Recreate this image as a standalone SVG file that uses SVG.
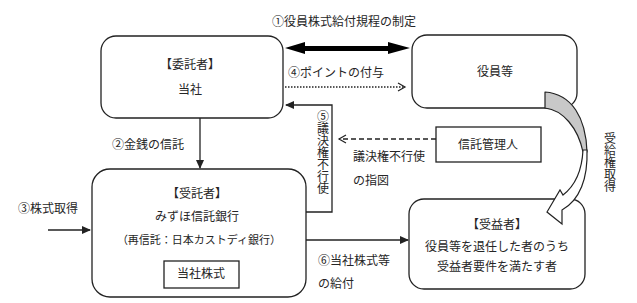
<svg xmlns="http://www.w3.org/2000/svg" width="637" height="303" viewBox="0 0 637 303">
<style>
text{font-family:"Noto Sans CJK JP","Noto Sans",sans-serif;font-size:12px;fill:#262626}
.c{text-anchor:middle}
.v{writing-mode:vertical-rl;text-orientation:upright}
.box{fill:#fff;stroke:#222;stroke-width:1.3}
.ln{fill:none;stroke:#222;stroke-width:1.3}
</style>
<defs>
<marker id="ah" markerWidth="10" markerHeight="10" refX="8" refY="5" orient="auto" markerUnits="userSpaceOnUse">
<path d="M0,1 L9,5 L0,9 Z" fill="#222"/>
</marker>
<marker id="oh" markerWidth="10" markerHeight="10" refX="8" refY="5" orient="auto" markerUnits="userSpaceOnUse">
<path d="M1,1 L8,5 L1,9" fill="none" stroke="#222" stroke-width="1.2"/>
</marker>
</defs>
<g id="connectors">
<path d="M285,48 L305,42 L305,46 L388,46 L388,42 L410,48 L388,54 L388,51 L305,51 L305,54 Z" fill="#000"/>
<line x1="285" y1="87" x2="405" y2="87" class="ln" stroke-dasharray="1.5,1.5" marker-end="url(#oh)"/>
<line x1="200" y1="118" x2="200" y2="168" class="ln" marker-end="url(#ah)"/>
<line x1="48" y1="230" x2="90" y2="230" class="ln" marker-end="url(#ah)"/>
<line x1="306" y1="240" x2="408" y2="240" class="ln" marker-end="url(#ah)"/>
<polyline points="306,212 332,212 332,105 286,105" class="ln" marker-end="url(#ah)"/>
<line x1="436" y1="139" x2="339" y2="139" class="ln" stroke-dasharray="5,3" marker-end="url(#oh)"/>
</g>
<g id="n-itakusha">
<rect x="101" y="36" width="182" height="82" rx="15" class="box"/>
<text x="190" y="69" class="c">【委託者】</text>
<text x="190" y="94" class="c">当社</text>
</g>
<g id="n-yakuin">
<rect x="412" y="35" width="165" height="73" rx="15" class="box"/>
<text x="495" y="76" class="c">役員等</text>
</g>
<g id="n-jutakusha">
<rect x="92" y="169" width="214" height="128" rx="18" class="box"/>
<text x="197" y="198" class="c">【受託者】</text>
<text x="197" y="221" class="c">みずほ信託銀行</text>
<text x="199" y="244" class="c" style="font-size:11px">（再信託：日本カストディ銀行）</text>
<g id="n-kabushiki">
<rect x="164" y="261" width="75" height="27" class="box"/>
<text x="201" y="278" class="c">当社株式</text>
</g>
</g>
<g id="n-kanrinin">
<rect x="436" y="127" width="105" height="35" class="box"/>
<text x="488" y="149" class="c">信託管理人</text>
</g>
<g id="n-jueki">
<rect x="409" y="199" width="176" height="90" rx="15" class="box"/>
<text x="497" y="229" class="c">【受益者】</text>
<text x="497" y="251" class="c">役員等を退任した者のうち</text>
<text x="497" y="271" class="c">受益者要件を満たす者</text>
</g>
<g id="curved-arrow">
<path d="M545,92 C572,94 586,118 587,152 L583,152 C578,128 563,110 545,108 Z" fill="#c8c8c8" stroke="#222" stroke-width="1.2" stroke-linejoin="round"/>
<path d="M587,150 C588,178 580,200 562,210 L562,224 L547,212 L560,190 L563,195 C576,185 582,170 583,150 Z" fill="#fff" stroke="#222" stroke-width="1.2" stroke-linejoin="miter"/>
</g>
<g id="labels">
<text x="344" y="26" class="c">①役員株式給付規程の制定</text>
<text x="336" y="77" class="c">④ポイントの付与</text>
<text x="112" y="149">②金銭の信託</text>
<text x="18" y="213">③株式取得</text>
<text x="353" y="161">議決権不行使</text>
<text x="353" y="185">の指図</text>
<text x="318" y="265">⑥当社株式等</text>
<text x="318" y="288">の給付</text>
<text x="323" y="110" class="v">⑤議決権不行使</text>
<text x="610" y="132" class="v">受給権取得</text>
</g>
</svg>
